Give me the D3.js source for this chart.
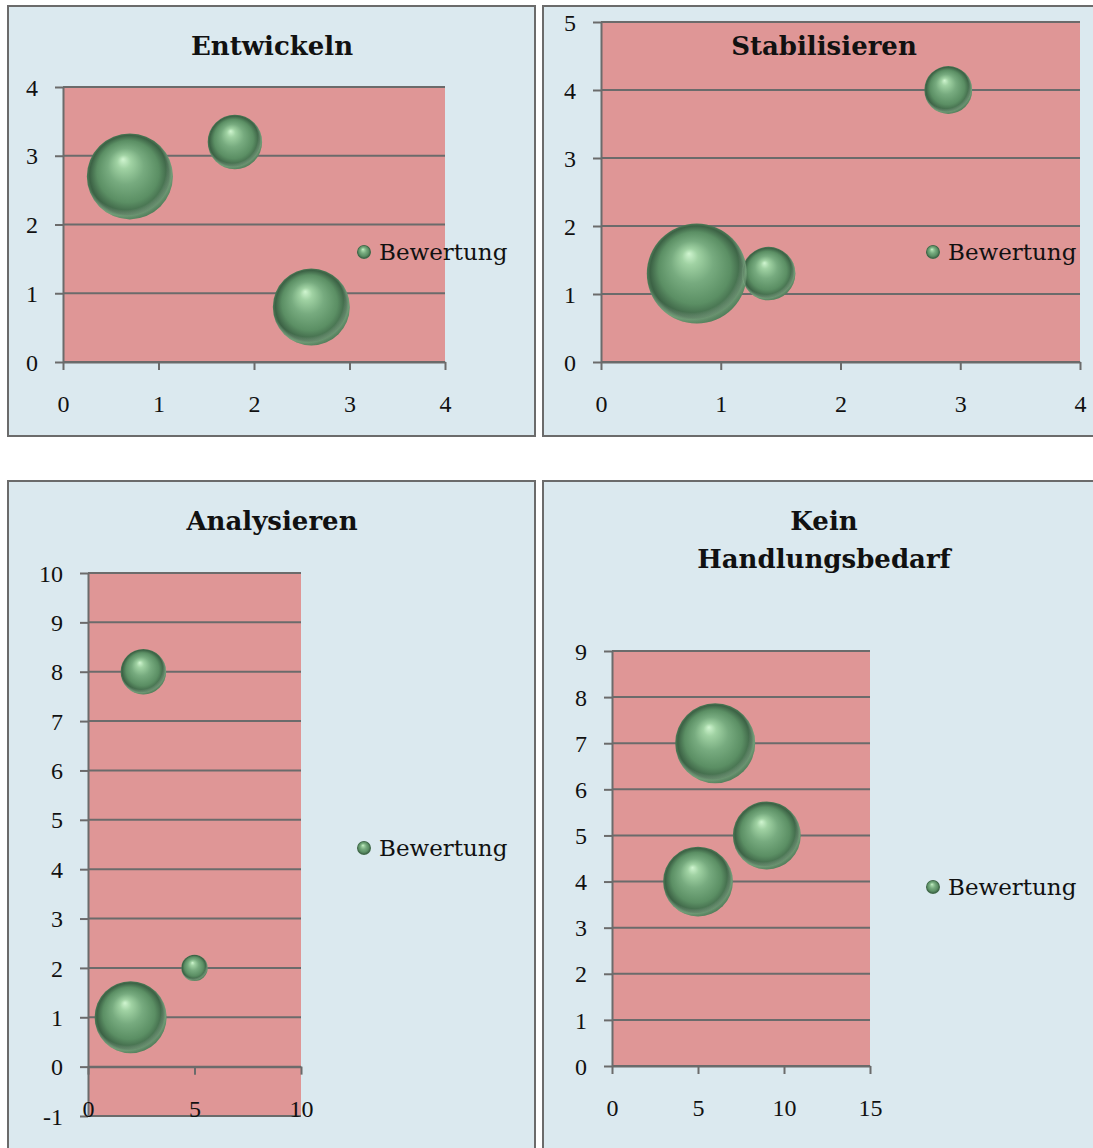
<!DOCTYPE html>
<html>
<head>
<meta charset="utf-8">
<script src="https://cdn.jsdelivr.net/npm/d3@7/dist/d3.min.js"></script>
<style>
  html, body { margin: 0; padding: 0; background: #ffffff; }
  svg { display: block; }
  text { font-family: "DejaVu Serif", "Liberation Serif", serif; fill: #111; }
</style>
</head>
<body>
<svg id="chart" width="1093" height="1148"></svg>
<script>
// ---------- DATA ----------
const seriesName = "Bewertung";
const panelTitles = [["Entwickeln"], ["Stabilisieren"], ["Analysieren"], ["Kein", "Handlungsbedarf"]];

const entwickelnX = [0.7, 1.8, 2.6];
const entwickelnY = [2.7, 3.2, 0.8];
const entwickelnSize = [5, 2, 4];

const stabilisierenX = [0.8, 1.4, 2.9];
const stabilisierenY = [1.3, 1.3, 4.0];
const stabilisierenSize = [7, 2, 1.6];

const analysierenX = [2, 2.6, 5];
const analysierenY = [1, 8, 2];
const analysierenSize = [7.5, 3, 1];

const keinX = [6, 9, 5];
const keinY = [7, 5, 4];
const keinSize = [5, 3.6, 3.8];

const entwickelnXTicks = [0, 1, 2, 3, 4];
const entwickelnYTicks = [0, 1, 2, 3, 4];
const stabilisierenXTicks = [0, 1, 2, 3, 4];
const stabilisierenYTicks = [0, 1, 2, 3, 4, 5];
const analysierenXTicks = [0, 5, 10];
const analysierenYTicks = [-1, 0, 1, 2, 3, 4, 5, 6, 7, 8, 9, 10];
const keinXTicks = [0, 5, 10, 15];
const keinYTicks = [0, 1, 2, 3, 4, 5, 6, 7, 8, 9];

// ---------- LAYOUT ----------
const panels = [
  { xs: entwickelnX, ys: entwickelnY, sz: entwickelnSize, xt: entwickelnXTicks, yt: entwickelnYTicks,
    box: [8, 6, 527, 430], plot: [63, 445, 87, 362], titleX: 272, titleY: [55], legend: [364, 252], maxR: 43 },
  { xs: stabilisierenX, ys: stabilisierenY, sz: stabilisierenSize, xt: stabilisierenXTicks, yt: stabilisierenYTicks,
    box: [543, 6, 600, 430], plot: [601, 1080, 22, 362], titleX: 824, titleY: [55], legend: [933, 252], maxR: 50 },
  { xs: analysierenX, ys: analysierenY, sz: analysierenSize, xt: analysierenXTicks, yt: analysierenYTicks,
    box: [8, 481, 527, 720], plot: [88, 301, 573, 1116], titleX: 272, titleY: [530], legend: [364, 848], maxR: 36 },
  { xs: keinX, ys: keinY, sz: keinSize, xt: keinXTicks, yt: keinYTicks,
    box: [543, 481, 600, 720], plot: [612, 870, 651, 1066], titleX: 824, titleY: [530, 568], legend: [933, 887], maxR: 40 }
];

const svg = d3.select("#chart");
const GRID = "#6b6b6b";
const TICKFONT = "'Liberation Serif', serif";

// sphere gradient
const defs = svg.append("defs");
const grad = defs.append("radialGradient").attr("id", "sphere")
  .attr("cx", "0.5").attr("cy", "0.5").attr("r", "0.5").attr("fx", "0.42").attr("fy", "0.3");
[[0, "#d0f5d0"], [0.16, "#a0d2a3"], [0.42, "#77ab7f"], [0.72, "#5b8f64"], [0.92, "#3c6245"], [1, "#4d7a56"]]
  .forEach(([o, c]) => grad.append("stop").attr("offset", o).attr("stop-color", c));
const rim = defs.append("radialGradient").attr("id", "rim")
  .attr("cx", "0.45").attr("cy", "0.42").attr("r", "0.6");
[[0, "rgba(255,255,255,0)"], [0.78, "rgba(255,255,255,0)"], [0.9, "rgba(190,235,190,0.35)"], [1, "rgba(190,235,190,0)"]]
  .forEach(([o, c]) => rim.append("stop").attr("offset", o).attr("stop-color", c));

panels.forEach((p, i) => {
  const g = svg.append("g");
  const [bx, by, bw, bh] = p.box;
  g.append("rect").attr("x", bx).attr("y", by).attr("width", bw).attr("height", bh)
    .attr("fill", "#dbe9ef").attr("stroke", GRID).attr("stroke-width", 2);

  const [l, r, t, b] = p.plot;
  const x = d3.scaleLinear().domain(d3.extent(p.xt)).range([l, r]);
  const y = d3.scaleLinear().domain(d3.extent(p.yt)).range([b, t]);

  g.append("rect").attr("x", l).attr("y", t).attr("width", r - l).attr("height", b - t).attr("fill", "#df9696");

  // gridlines
  g.append("g").selectAll("line").data(p.yt).join("line")
    .attr("x1", l).attr("x2", r).attr("y1", d => y(d)).attr("y2", d => y(d))
    .attr("stroke", GRID).attr("stroke-width", 2);

  // y axis
  const ya = g.append("g").attr("transform", `translate(${l},0)`)
    .call(d3.axisLeft(y).tickValues(p.yt).tickSize(8).tickSizeOuter(0).tickFormat(d => String(d)));
  ya.select(".domain").attr("stroke", GRID).attr("stroke-width", 2);
  ya.selectAll(".tick line").attr("stroke", GRID).attr("stroke-width", 2);
  ya.selectAll(".tick text").attr("x", -25).attr("dy", "0.34em")
    .style("font-family", TICKFONT).style("font-size", "24px").attr("fill", "#111");

  // x axis at y = 0
  const xa = g.append("g").attr("transform", `translate(0,${y(0)})`)
    .call(d3.axisBottom(x).tickValues(p.xt).tickSize(8).tickSizeOuter(0).tickFormat(d => String(d)));
  xa.select(".domain").attr("stroke", GRID).attr("stroke-width", 2);
  xa.selectAll(".tick line").attr("stroke", GRID).attr("stroke-width", 2);
  xa.selectAll(".tick text").attr("y", 42).attr("dy", "0.34em")
    .style("font-family", TICKFONT).style("font-size", "24px").attr("fill", "#111");

  // bubbles
  const rs = d3.scaleSqrt().domain([0, d3.max(p.sz)]).range([0, p.maxR]);
  const pts = p.xs.map((v, k) => ({ x: v, y: p.ys[k], s: p.sz[k] }));
  const bg = g.append("g");
  bg.selectAll("circle.b").data(pts).join("circle").attr("class", "b")
    .attr("cx", d => x(d.x)).attr("cy", d => y(d.y)).attr("r", d => rs(d.s))
    .attr("fill", "url(#sphere)");
  bg.selectAll("circle.rim").data(pts).join("circle").attr("class", "rim")
    .attr("cx", d => x(d.x)).attr("cy", d => y(d.y)).attr("r", d => rs(d.s))
    .attr("fill", "url(#rim)");

  // title
  const tt = g.append("text").attr("text-anchor", "middle")
    .style("font-family", "DejaVu Serif").style("font-size", "26px").style("font-weight", "bold");
  panelTitles[i].forEach((line, k) => {
    tt.append("tspan").attr("x", p.titleX).attr("y", p.titleY[k]).text(line);
  });

  // legend
  const [lx, ly] = p.legend;
  g.append("circle").attr("cx", lx).attr("cy", ly).attr("r", 7).attr("fill", "url(#sphere)");
  g.append("text").attr("x", lx + 15).attr("y", ly).attr("dy", "0.33em")
    .style("font-family", "DejaVu Serif").style("font-size", "23px").text(seriesName);
});
</script>
</body>
</html>
